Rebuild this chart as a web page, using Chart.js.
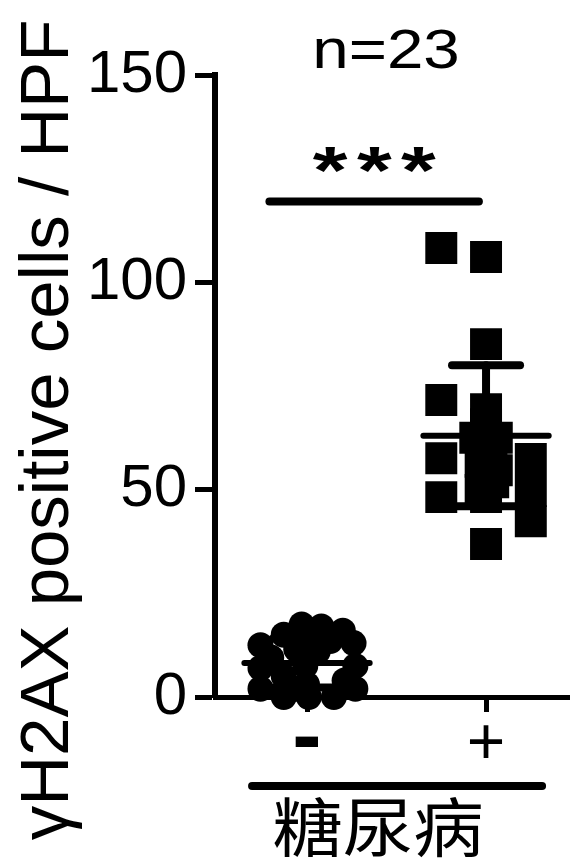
<!DOCTYPE html>
<html>
<head>
<meta charset="utf-8">
<script src="https://cdn.jsdelivr.net/npm/chart.js@4.4.0/dist/chart.umd.min.js"></script>
<style>
  html, body { margin: 0; padding: 0; background: #fff; }
</style>
</head>
<body>
<canvas id="chart" width="570" height="858"></canvas>
<script>
// x categories and y ticks
const groupLabels = ['-', '+'];
const yTicks = [0, 50, 100, 150];

// γH2AX positive cells / HPF, diabetes "-" (circles)
const minusValues = [17.5, 17, 15, 12.5, 13, 13.5, 13, 7, 7.5, 5, 7.5, 2, 0, 0, 0, 2, 3, 4, 11, 11.5, 16, 9.5, 2];
// horizontal spread of each circle, in category units
const minusJitter = [-0.03, 0.08, -0.13, -0.26, 0, 0.13, 0.26, -0.26, -0.01, -0.13, 0.27, -0.26, -0.13, 0.01, 0.15, 0.27, 0, 0.21, 0.06, -0.06, 0.2, -0.2, -0.06];

// diabetes "+" (squares)
const plusValues = [108.3, 106.1, 85.1, 71.6, 69.4, 65.8, 62.5, 62.5, 57.6, 57.4, 58.4, 54.7, 54.7, 51.1, 49.9, 48.2, 48.2, 49.7, 42.4, 36.9, 60.8, 56.7, 51.8];
const plusJitter = [-0.25, 0, 0, -0.25, 0, 0, -0.06, 0.06, -0.25, 0.25, 0, 0, 0.06, 0, -0.03, 0, -0.25, 0.25, 0.25, 0, 0.03, -0.03, 0.04];

// mean and SD bars
const groupMeans = [8.2, 63];
const groupSDs = [5.9, 17];

const sigLevel = 119.5;
const sigFrom = -0.21;
const sigTo = 0.96;

const nText = 'n=23';
const sigText = '***';
const groupTitle = '糖尿病';
const yTitle = 'γH2AX positive cells / HPF';

function toPoints(values, jitter, group) {
    return values.map((v, i) => ({ x: group + jitter[i], y: v }));
}

function lineSet(points, width) {
    return {
        type: 'line',
        data: points,
        borderColor: '#000',
        borderWidth: width,
        borderCapStyle: 'round',
        pointRadius: 0,
        showLine: true,
        fill: false,
        clip: false,
        order: 0
    };
}

const datasets = [];

// mean lines and SD bars
groupMeans.forEach((m, g) => {
    const sd = groupSDs[g];
    datasets.push(lineSet([{ x: g - 0.35, y: m }, { x: g + 0.35, y: m }], 6));
    datasets.push(lineSet([{ x: g, y: m - sd }, { x: g, y: m + sd }], 8));
    datasets.push(lineSet([{ x: g - 0.19, y: m + sd }, { x: g + 0.19, y: m + sd }], 8));
    datasets.push(lineSet([{ x: g - 0.19, y: m - sd }, { x: g + 0.19, y: m - sd }], 8));
});

// significance bar
datasets.push(lineSet([{ x: sigFrom, y: sigLevel }, { x: sigTo, y: sigLevel }], 8));

datasets.push({
    type: 'scatter',
    data: toPoints(minusValues, minusJitter, 0),
    pointStyle: 'circle',
    pointRadius: 13,
    pointBorderWidth: 0,
    backgroundColor: '#000',
    borderColor: '#000',
    clip: false,
    order: 1
});
datasets.push({
    type: 'scatter',
    data: toPoints(plusValues, plusJitter, 1),
    pointStyle: 'rect',
    pointRadius: 22.6,
    pointBorderWidth: 0,
    backgroundColor: '#000',
    borderColor: '#000',
    clip: false,
    order: 1
});

function drawStretched(ctx, text, x, y, sx) {
    ctx.save();
    ctx.translate(x, y);
    ctx.scale(sx, 1);
    ctx.fillText(text, 0, 0);
    ctx.restore();
}

// extra texts: y title, n, stars, group label under the axis
const annotations = {
    id: 'annotations',
    afterDraw(chart) {
        const ctx = chart.ctx;
        const xs = chart.scales.x;
        ctx.save();
        ctx.fillStyle = '#000';
        ctx.strokeStyle = '#000';

        // y axis title
        ctx.save();
        ctx.translate(49, 430);
        ctx.rotate(-Math.PI / 2);
        ctx.font = '69px "Liberation Sans"';
        ctx.textAlign = 'center';
        ctx.textBaseline = 'middle';
        ctx.fillText(yTitle, 0, 0);
        ctx.restore();

        ctx.textAlign = 'center';
        ctx.textBaseline = 'alphabetic';
        ctx.font = '56px "Liberation Sans"';
        drawStretched(ctx, nText, 386, 68, 1.17);

        ctx.save();
        ctx.font = 'bold 66px "Liberation Sans"';
        ctx.letterSpacing = '7px';
        drawStretched(ctx, sigText, 379, 193, 1.35);
        ctx.restore();

        // line under the - / + labels
        ctx.lineWidth = 8;
        ctx.lineCap = 'round';
        ctx.beginPath();
        ctx.moveTo(xs.getPixelForValue(-0.307), 786);
        ctx.lineTo(xs.getPixelForValue(1.313), 786);
        ctx.stroke();

        ctx.textBaseline = 'middle';
        ctx.font = '64px "Noto Sans CJK SC"';
        drawStretched(ctx, groupTitle, 378, 827, 1.1);
        ctx.restore();
    }
};

new Chart(document.getElementById('chart').getContext('2d'), {
    type: 'scatter',
    data: { datasets: datasets },
    plugins: [annotations],
    options: {
        responsive: false,
        animation: false,
        events: [],
        layout: { autoPadding: false, padding: { top: 75, left: 0, right: 0, bottom: 0 } },
        plugins: {
            legend: { display: false },
            tooltip: { enabled: false }
        },
        scales: {
            x: {
                type: 'linear',
                min: -0.514,
                max: 1.469,
                afterFit: function(scale) { scale.height = 161; },
                afterBuildTicks: function(scale) {
                    scale.ticks = groupLabels.map((_, i) => ({ value: i }));
                },
                grid: {
                    drawOnChartArea: false,
                    drawTicks: true,
                    tickLength: 15,
                    tickWidth: 5,
                    tickColor: '#000'
                },
                border: { display: true, color: '#000', width: 5 },
                ticks: {
                    color: '#000',
                    padding: 1,
                    maxRotation: 0,
                    autoSkip: false,
                    font: function(context) {
                        if (context.index === 0) {
                            return { family: 'Liberation Sans', size: 88, weight: 'bold', lineHeight: 0.6 };
                        }
                        return { family: 'Liberation Sans', size: 66, lineHeight: 1 };
                    },
                    callback: function(value, index) { return groupLabels[index]; }
                }
            },
            y: {
                type: 'linear',
                min: 0,
                max: 150,
                afterFit: function(scale) { scale.width = 215; },
                afterBuildTicks: function(scale) {
                    scale.ticks = yTicks.map(v => ({ value: v }));
                },
                grid: {
                    drawOnChartArea: false,
                    drawTicks: true,
                    tickLength: 20,
                    tickWidth: 5,
                    tickColor: '#000'
                },
                border: { display: true, color: '#000', width: 6 },
                ticks: {
                    color: '#000',
                    padding: 8,
                    autoSkip: false,
                    font: { family: 'Liberation Sans', size: 60 }
                }
            }
        }
    }
});
</script>
</body>
</html>
